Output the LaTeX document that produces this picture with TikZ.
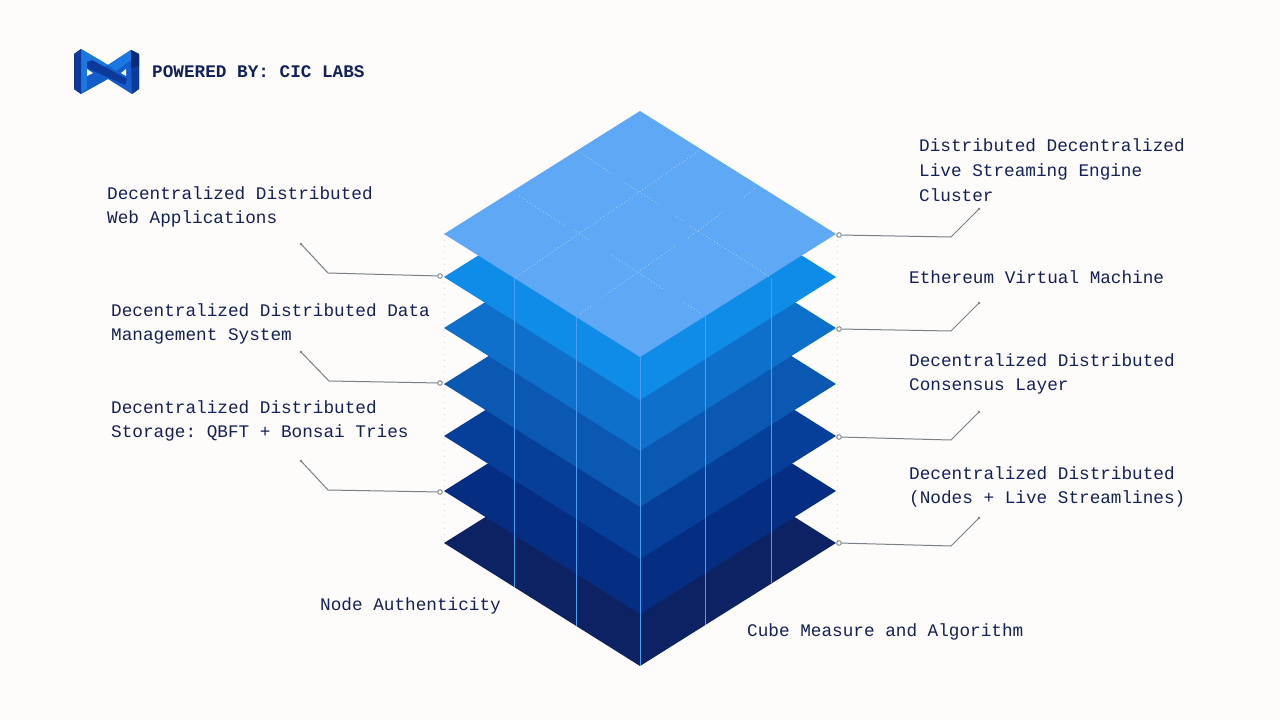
\documentclass[tikz,border=0pt]{standalone}
\usepackage{fontspec}
\newfontfamily\labelfont{Liberation Mono}
\frenchspacing
\definecolor{bgc}{HTML}{FDFCFA}
\definecolor{inkc}{HTML}{13215A}
\definecolor{linec}{HTML}{7A7F86}
\definecolor{railc}{HTML}{4C9FF0}
\definecolor{gridc}{HTML}{BAD7F7}
\definecolor{guidec}{HTML}{D8D8D6}
\definecolor{la}{HTML}{5FA8F6}
\definecolor{lb}{HTML}{0E8CE8}
\definecolor{lc}{HTML}{0F70CC}
\definecolor{ld}{HTML}{0A58B2}
\definecolor{le}{HTML}{063F9A}
\definecolor{lf}{HTML}{052D82}
\definecolor{lg}{HTML}{0D2262}
\definecolor{logoa}{HTML}{125CCB}
\definecolor{logob}{HTML}{1A78E0}
\definecolor{logoc}{HTML}{0B3A9A}
\definecolor{logod}{HTML}{0A2A78}
\tikzset{
  lbl/.style={font=\labelfont\fontsize{17.7}{24.8}\selectfont,text=inkc,inner sep=0pt,anchor=west,align=left},
  ttl/.style={font=\labelfont\bfseries\fontsize{17.7}{24.8}\selectfont,text=inkc,inner sep=0pt,anchor=west},
  pin/.style={circle,draw=linec,fill=bgc,line width=0.9pt,minimum size=4.6pt,inner sep=0pt},
  lead/.style={draw=linec,line width=1pt},
  rail/.style={draw=railc,line width=0.9pt},
  gridl/.style={draw=gridc,line width=0.7pt,dash pattern=on 0.8pt off 2.4pt},
  guide/.style={draw=guidec,line width=0.6pt,dash pattern=on 1pt off 5pt}
}
\newcommand{\layer}[2]{\fill[#2] (444,#1) -- (640,{#1-123}) -- (836,#1) -- (640,{#1+123}) -- cycle;}
\begin{document}
\begin{tikzpicture}[x=1pt,y=-1pt]
\useasboundingbox (0,0) rectangle (1280,720);
\fill[bgc] (0,0) rectangle (1280,720);
% faint guides
\draw[guide] (444,234) -- (444,543);
\draw[guide] (837,234) -- (837,543);
% layers, bottom to top
\layer{543}{lg}
\layer{491}{lf}
\layer{436}{le}
\layer{384}{ld}
\layer{328}{lc}
\layer{277}{lb}
% rails
\draw[rail] (514,278) -- (514,587);
\draw[rail] (576,316) -- (576,626);
\draw[rail] (640,357) -- (640,666);
\draw[rail] (705,316) -- (705,625);
\draw[rail] (771,278) -- (771,583);
\layer{234}{la}
% grid on top plate
\draw[gridl] (516,277) -- (700,150);
\draw[gridl] (574,230) -- (589,240);
\draw[gridl] (519,196) -- (567,227);
\draw[gridl] (580,152) -- (612,174);
\draw[gridl] (625,183) -- (660,205);
\draw[gridl] (675,216) -- (686,222);
\draw[gridl] (690,226) -- (770,277);
\draw[gridl] (611,255) -- (663,289);
\draw[gridl] (683,302) -- (702,314);
\draw[gridl] (580,314) -- (591,306);
\draw[gridl] (601,298) -- (675,246);
\draw[gridl] (688,238) -- (724,211);
\draw[gridl] (744,197) -- (756,188);
% logo
\fill[logoa] (74,54) -- (81,49) -- (108,65) -- (131,50) -- (139,54) -- (139,89) -- (132,94) -- (108,79) -- (81,94) -- (74,89) -- cycle;
\fill[logob] (81,49) -- (108,65) -- (99,69) -- (87,62) -- (87,89) -- (81,92) -- cycle;
\fill[logob] (108,65) -- (131,50) -- (131,60) -- (116,71) -- cycle;
\fill[logoc] (74,54) -- (81,49) -- (81,94) -- (74,89) -- cycle;
\fill[logoc] (131,60) -- (139,56) -- (139,89) -- (132,94) -- cycle;
\fill[logod] (131,50) -- (139,54) -- (139,66) -- (131,68) -- cycle;
\fill[logoc] (87,62) -- (92,60) -- (127,79) -- (125,85) -- (87,68) -- cycle;
\fill[bgc] (87,69) -- (93,73) -- (87,76) -- cycle;
\fill[bgc] (126,69) -- (126,76) -- (121,73) -- cycle;
\node[ttl] (title) at (152,71.5) {POWERED BY: CIC LABS};
% labels
\node[lbl] (tWeb) at (107,207) {Decentralized Distributed\\Web Applications};
\node[lbl] (tData) at (111,324) {Decentralized Distributed Data\\Management System};
\node[lbl] (tStore) at (111,421) {Decentralized Distributed\\Storage: QBFT + Bonsai Tries};
\node[lbl] (tLive) at (919,170) {Distributed Decentralized\\Live Streaming Engine\\Cluster};
\node[lbl] (tEvm) at (909,277) {Ethereum Virtual Machine};
\node[lbl] (tCons) at (909,374) {Decentralized Distributed\\Consensus Layer};
\node[lbl] (tNodes) at (909,487) {Decentralized Distributed\\(Nodes + Live Streamlines)};
\node[lbl] (tAuth) at (320,606) {Node Authenticity};
\node[lbl] (tCube) at (747,632) {Cube Measure and Algorithm};
% pins
\node[pin] (pa) at (440,276) {};
\node[pin] (pb) at (440,383) {};
\node[pin] (pc) at (440,492) {};
\node[pin] (pd) at (839,235) {};
\node[pin] (pe) at (839,329) {};
\node[pin] (pf) at (839,437) {};
\node[pin] (pg) at (839,543) {};
% free ends
\coordinate (ea) at (301,244); \coordinate (ka) at (328,273);
\coordinate (eb) at (301,352); \coordinate (kb) at (329,381);
\coordinate (ec) at (301,461); \coordinate (kc) at (328,490);
\coordinate (ed) at (979,209); \coordinate (kd) at (951,237);
\coordinate (ee) at (979,303); \coordinate (ke) at (951,331);
\coordinate (ef) at (979,412); \coordinate (kf) at (951,440);
\coordinate (eg) at (979,518); \coordinate (kg) at (951,546);
\foreach \p/\k/\e in {pa/ka/ea,pb/kb/eb,pc/kc/ec,pd/kd/ed,pe/ke/ee,pf/kf/ef,pg/kg/eg}
  \draw[lead] (\p) -- (\k) -- (\e);
\foreach \e in {ea,eb,ec,ed,ee,ef,eg}
  \fill[linec] (\e) circle (1.3pt);
\end{tikzpicture}
\end{document}
